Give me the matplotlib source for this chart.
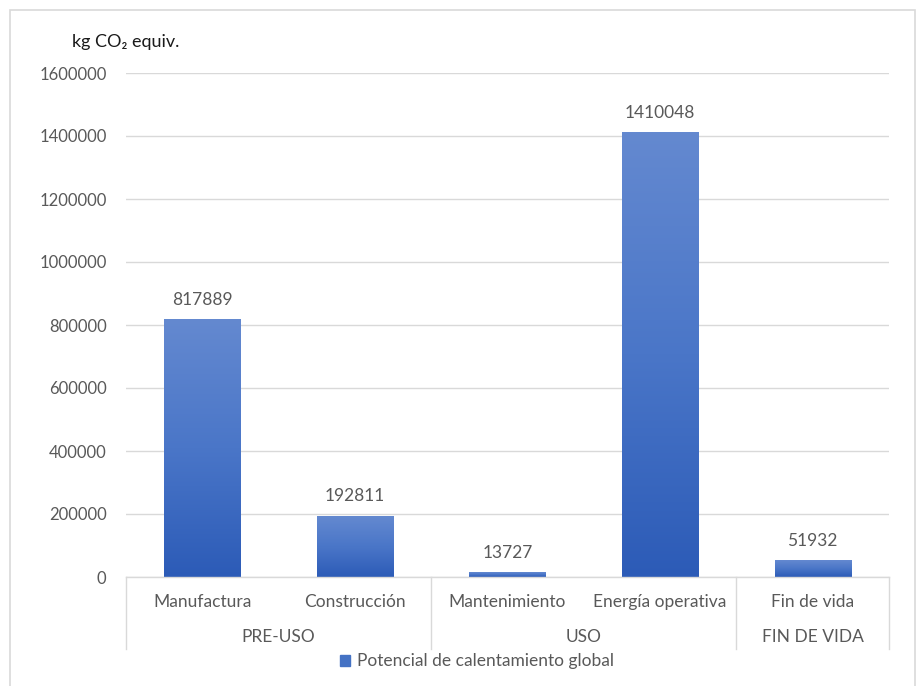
import numpy as np
import matplotlib.pyplot as plt
from matplotlib.patches import Patch, Rectangle
from matplotlib.colors import LinearSegmentedColormap

plt.rcParams['font.family'] = ['Lato', 'DejaVu Sans']

categories = ['Manufactura', 'Construcción', 'Mantenimiento', 'Energía operativa', 'Fin de vida']
values = [817889, 192811, 13727, 1410048, 51932]
groups = ['PRE-USO', 'USO', 'FIN DE VIDA']
group_sizes = [2, 2, 1]
series_name = 'Potencial de calentamiento global'
y_ticks = np.arange(0, 1600001, 200000)

text_col = '#595959'
line_col = '#d9d9d9'
grad = LinearSegmentedColormap.from_list('bar', ['#2c5bb7', '#4a76c8', '#6489d0'])

fig = plt.figure(figsize=(9.16, 6.86), dpi=100)
ax = fig.add_axes([126 / 916, 109 / 686, 763 / 916, 504 / 686])

# outer chart border
fig.patches.append(Rectangle((10 / 916, -0.01), 905 / 916, 1 - 10 / 686 + 0.01,
                             transform=fig.transFigure, fill=False,
                             edgecolor=line_col, linewidth=1.2))

x = np.arange(len(categories))
bars = ax.bar(x, values, width=0.5, color='none', zorder=2)
g = np.linspace(0, 1, 256).reshape(-1, 1)
for b in bars:
    ax.imshow(g, cmap=grad, origin='lower', aspect='auto', zorder=2,
              extent=[b.get_x(), b.get_x() + b.get_width(), 0, b.get_height()])
for xi, v in zip(x, values):
    ax.annotate(str(v), (xi, v), xytext=(0, 8.5), textcoords='offset points',
                ha='center', va='bottom', fontsize=12.5, color=text_col)

ax.set_xlim(-0.5, len(categories) - 0.5)
ax.set_ylim(0, 1600000)
ax.set_yticks(y_ticks)
ax.set_yticklabels([str(t) for t in y_ticks], fontsize=12, color=text_col)
ax.tick_params(axis='y', length=0, pad=14)
ax.set_xticks([])
ax.grid(axis='y', color=line_col, linewidth=1, zorder=0)
for s in ax.spines.values():
    s.set_visible(False)

tr = ax.get_xaxis_transform()
for xi, c in zip(x, categories):
    ax.text(xi, -0.05, c, transform=tr, ha='center', va='center',
            fontsize=12.5, color=text_col)
edges = [-0.5]
for n in group_sizes:
    edges.append(edges[-1] + n)
for gname, a, b in zip(groups, edges[:-1], edges[1:]):
    ax.text((a + b) / 2, -0.12, gname, transform=tr, ha='center', va='center',
            fontsize=12.5, color=text_col)
for e in edges:
    ax.plot([e, e], [0, -0.143], transform=tr, color=line_col, lw=1, clip_on=False)
ax.plot([-0.5, len(categories) - 0.5], [0, 0], transform=tr, color=line_col, lw=1, clip_on=False)

fig.text(72 / 916, 1 - 42 / 686, 'kg CO₂ equiv.', fontsize=13, color='#1a1a1a',
         ha='left', va='center')

ax.legend(handles=[Patch(color='#4472c4', label=series_name)], loc='center',
          bbox_to_anchor=(0.46, -0.167), frameon=False, fontsize=12.5,
          handlelength=0.6, handleheight=0.6, handletextpad=0.4, labelcolor=text_col)

fig.savefig('out.png', dpi=100)
